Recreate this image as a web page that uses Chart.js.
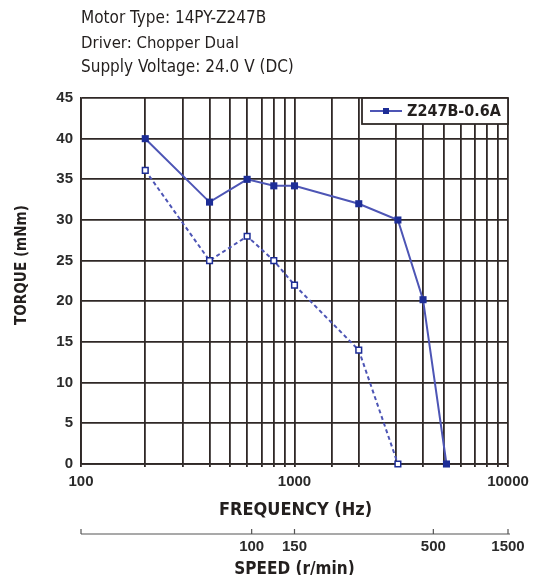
<!DOCTYPE html>
<html>
<head>
<meta charset="utf-8">
<script src="https://cdn.jsdelivr.net/npm/chart.js@4/dist/chart.umd.min.js"></script>
<style>
  html, body { margin: 0; padding: 0; background: #fff; }
  #chart { display: block; }
</style>
</head>
<body>
<canvas id="chart" width="537" height="575"></canvas>
<script>
// header lines
const infoLines = ['Motor Type: 14PY-Z247B', 'Driver: Chopper Dual', 'Supply Voltage: 24.0 V (DC)'];

// pull-out torque (solid)
const pullOutFreq = [200, 400, 600, 800, 1000, 2000, 3050, 4000, 5150];
const pullOutTorque = [40, 32.2, 35, 34.2, 34.2, 32, 30, 20.2, 0];

// pull-in torque (dashed)
const pullInFreq = [200, 400, 600, 800, 1000, 2000, 3050];
const pullInTorque = [36.1, 25, 28, 25, 22, 14, 0];

// frequency axis labels
const freqLabels = [100, 1000, 10000];

// speed scale under the chart, and where each tick sits on the frequency axis
const speedLabels = ['100', '150', '500', '1500'];
const speedTickFreq = [630, 1000, 4470, 10000];

const seriesName = 'Z247B-0.6A';

const lineColor = '#4d55b5';
const markColor = '#1d2d96';
const gridColor = '#2f2826';
const textColor = '#231f1e';
const narrow = '"Liberation Sans Narrow", "DejaVu Sans Condensed", "Roboto", sans-serif';
const tickFont = '"Liberation Sans", Arial, sans-serif';

function fitText(ctx, text, x, y, width, weight, maxSize) {
    let size = maxSize;
    ctx.font = `${weight} ${size}px ${narrow}`;
    const w = ctx.measureText(text).width;
    if (w > width) {
        size = size * width / w;
        ctx.font = `${weight} ${size}px ${narrow}`;
    }
    ctx.fillText(text, x, y);
}

const extras = {
    id: 'extras',
    afterDraw(chart) {
        const ctx = chart.ctx;
        const area = chart.chartArea;
        const xs = chart.scales.x;
        ctx.save();
        ctx.fillStyle = textColor;
        ctx.textBaseline = 'middle';

        // header block
        ctx.textAlign = 'left';
        const lineW = [190, 158, 213];
        infoLines.forEach((t, i) => fitText(ctx, t, area.left, 19 + i * 24.5, lineW[i], 'normal', 17));

        // legend box
        const lx = 362, ly = area.top, lw = area.right - lx, lh = 26;
        ctx.fillStyle = '#fff';
        ctx.fillRect(lx, ly, lw, lh);
        ctx.strokeStyle = gridColor;
        ctx.lineWidth = 1.8;
        ctx.strokeRect(lx, ly, lw, lh);
        ctx.strokeStyle = lineColor;
        ctx.lineWidth = 2;
        ctx.beginPath();
        ctx.moveTo(lx + 8, ly + 13);
        ctx.lineTo(lx + 40, ly + 13);
        ctx.stroke();
        ctx.fillStyle = markColor;
        ctx.fillRect(lx + 21, ly + 10, 6, 6);
        ctx.fillStyle = textColor;
        ctx.textAlign = 'left';
        fitText(ctx, seriesName, lx + 45, ly + 14, 94, 'bold', 16);

        // y title
        ctx.save();
        ctx.translate(22, 265);
        ctx.rotate(-Math.PI / 2);
        ctx.textAlign = 'center';
        fitText(ctx, 'TORQUE (mNm)', 0, 0, 120, 'bold', 16);
        ctx.restore();

        // x title
        ctx.textAlign = 'center';
        fitText(ctx, 'FREQUENCY (Hz)', (area.left + area.right) / 2 + 1, 510, 163, 'bold', 18);

        // speed axis
        const sy = 534;
        const sx0 = xs.getPixelForValue(100);
        const sx1 = xs.getPixelForValue(10000) + 2;
        ctx.strokeStyle = '#555';
        ctx.lineWidth = 1.2;
        ctx.beginPath();
        ctx.moveTo(sx0, sy);
        ctx.lineTo(sx1, sy);
        ctx.moveTo(sx0, sy);
        ctx.lineTo(sx0, sy - 5);
        speedTickFreq.forEach(f => {
            const px = Math.min(xs.getPixelForValue(f), sx1);
            ctx.moveTo(px, sy);
            ctx.lineTo(px, sy - 5);
        });
        ctx.stroke();
        ctx.font = `bold 15px ${tickFont}`;
        ctx.fillStyle = '#2a2a2a';
        speedTickFreq.forEach((f, i) => {
            const px = Math.min(xs.getPixelForValue(f), sx1);
            ctx.fillText(speedLabels[i], px, 547);
        });
        ctx.fillStyle = textColor;
        fitText(ctx, 'SPEED (r/min)', xs.getPixelForValue(1000), 570, 124, 'bold', 17);

        ctx.restore();
    }
};

const ctx = document.getElementById('chart').getContext('2d');
new Chart(ctx, {
    type: 'line',
    data: {
        datasets: [{
            label: seriesName,
            data: pullOutFreq.map((f, i) => ({ x: f, y: pullOutTorque[i] })),
            borderColor: lineColor,
            borderWidth: 2,
            pointStyle: 'rect',
            pointRadius: 5,
            pointBackgroundColor: markColor,
            pointBorderColor: markColor,
            pointBorderWidth: 0,
            tension: 0,
            clip: false
        }, {
            label: 'pull-in',
            data: pullInFreq.map((f, i) => ({ x: f, y: pullInTorque[i] })),
            borderColor: lineColor,
            borderWidth: 2,
            borderDash: [4, 3],
            pointStyle: 'rect',
            pointRadius: 4,
            pointBackgroundColor: '#fff',
            pointBorderColor: markColor,
            pointBorderWidth: 1.5,
            tension: 0,
            clip: false
        }]
    },
    options: {
        responsive: false,
        animation: false,
        devicePixelRatio: 1,
        layout: { padding: { left: 0, top: 98, right: 29, bottom: 0 } },
        plugins: {
            legend: { display: false },
            tooltip: { enabled: false }
        },
        scales: {
            x: {
                type: 'logarithmic',
                min: 100,
                max: 10000,
                afterFit: s => { s.height = 111; },
                grid: { color: gridColor, lineWidth: 1.8, tickLength: 3, tickColor: gridColor },
                border: { color: gridColor, width: 1.8 },
                ticks: {
                    autoSkip: false,
                    maxRotation: 0,
                    padding: 6,
                    color: '#2a2a2a',
                    font: { family: tickFont, size: 15, weight: 'bold' },
                    callback: v => freqLabels.includes(v) ? String(v) : ''
                }
            },
            y: {
                min: 0,
                max: 45,
                afterFit: s => { s.width = 81; },
                grid: { color: gridColor, lineWidth: 1.8, drawTicks: false },
                border: { color: gridColor, width: 1.8 },
                ticks: {
                    stepSize: 5,
                    padding: 8,
                    color: '#2a2a2a',
                    font: { family: tickFont, size: 15, weight: 'bold' }
                }
            }
        }
    },
    plugins: [extras]
});
</script>
</body>
</html>
